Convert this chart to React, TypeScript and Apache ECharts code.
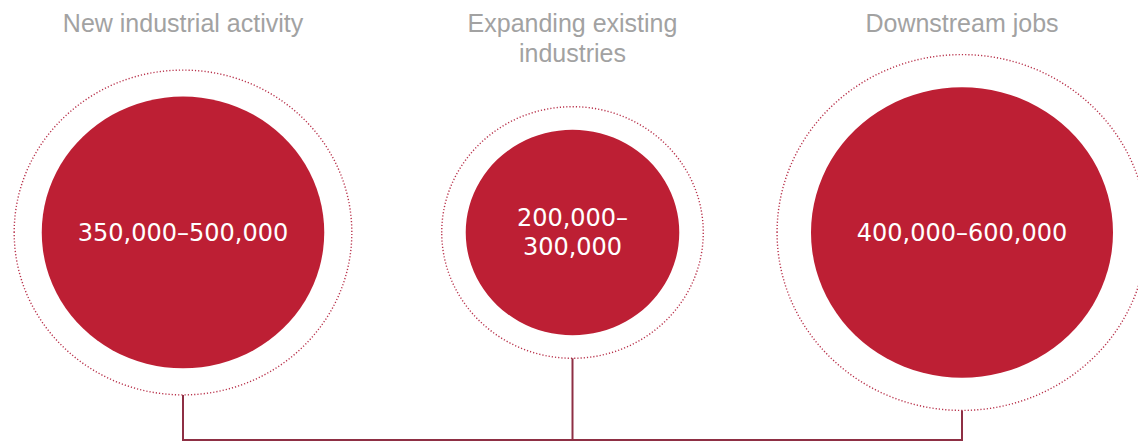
import React, { useEffect, useRef } from "react";
import * as echarts from "echarts";

// Categories (column headings) and job ranges
const categories = ["New industrial activity", "Expanding existing\nindustries", "Downstream jobs"];
const lowJobs = [350000, 200000, 400000];
const highJobs = [500000, 300000, 600000];

// Circle area is proportional to the number of jobs
const RADIUS_K = 7.55; // px per sqrt(thousand jobs)
const ASPECT = 0.962; // vertical squash of the original artwork
const rad = (v: number) => RADIUS_K * Math.sqrt(v / 1000);
const fmt = (v: number) => String(v).replace(/\B(?=(\d{3})+(?!\d))/g, ",");

const labelFor = (i: number) => {
  const r = rad(lowJobs[i]);
  const sep = r < 120 ? "–\n" : "–";
  return fmt(lowJobs[i]) + sep + fmt(highJobs[i]);
};

export default function App() {
  const ref = useRef<HTMLDivElement>(null);
  useEffect(() => {
    const chart = echarts.init(ref.current!, null, { renderer: "svg" });
    const lineColor = "#8e2f44";
    chart.setOption({
      animation: false,
      backgroundColor: "#ffffff",
      grid: { left: 183, right: 176, top: 0, height: 465, outerBoundsMode: "none" },
      xAxis: {
        type: "category",
        data: categories,
        position: "top",
        boundaryGap: false,
        axisLine: { show: false },
        axisTick: { show: false },
        splitLine: { show: false },
        axisLabel: {
          inside: true,
          interval: 0,
          margin: 8,
          color: "#a2a2a2",
          fontFamily: "Liberation Sans",
          fontSize: 25,
          lineHeight: 30,
          verticalAlign: "top",
          hideOverlap: false,
        },
      },
      yAxis: { type: "value", min: -1, max: 1, show: false },
      series: [
        {
          type: "custom",
          silent: true,
          z: 1,
          data: highJobs.map((v, i) => [i, 0, v]),
          renderItem: (params: any, api: any) => {
            const i = params.dataIndex;
            const c = api.coord([i, 0]);
            const r = rad(highJobs[i]);
            const ry = r * ASPECT;
            const cs = params.coordSys;
            const baseY = cs.y + cs.height - 25;
            const children: any[] = [
              {
                type: "ellipse",
                shape: { cx: c[0], cy: c[1], rx: r, ry },
                style: { fill: "none", stroke: "#b8324b", lineWidth: 1.4, lineDash: [1.2, 2] },
              },
              {
                type: "line",
                shape: { x1: c[0], y1: c[1] + ry, x2: c[0], y2: baseY },
                style: { stroke: lineColor, lineWidth: 2 },
              },
            ];
            if (i === 0) {
              const e = api.coord([categories.length - 1, 0]);
              children.push({
                type: "line",
                shape: { x1: c[0] - 1, y1: baseY, x2: e[0] + 1, y2: baseY },
                style: { stroke: lineColor, lineWidth: 2 },
              });
            }
            return { type: "group", children };
          },
        },
        {
          type: "scatter",
          silent: true,
          z: 2,
          data: lowJobs.map((v, i) => [i, 0]),
          symbol: "circle",
          symbolSize: (val: any, params: any) => {
            const r = rad(lowJobs[params.dataIndex]);
            return [2 * r, 2 * r * ASPECT];
          },
          itemStyle: { color: "#bd1f34", opacity: 1 },
          label: {
            show: true,
            position: "inside",
            formatter: (p: any) => labelFor(p.dataIndex),
            color: "#ffffff",
            fontFamily: "DejaVu Sans",
            fontSize: 24,
            lineHeight: 29,
          },
        },
      ],
    });
    return () => chart.dispose();
  }, []);
  return (
    <div
      ref={ref}
      style={{ position: "absolute", left: 0, top: 0, width: 1138, height: 442, background: "#fff" }}
    />
  );
}
